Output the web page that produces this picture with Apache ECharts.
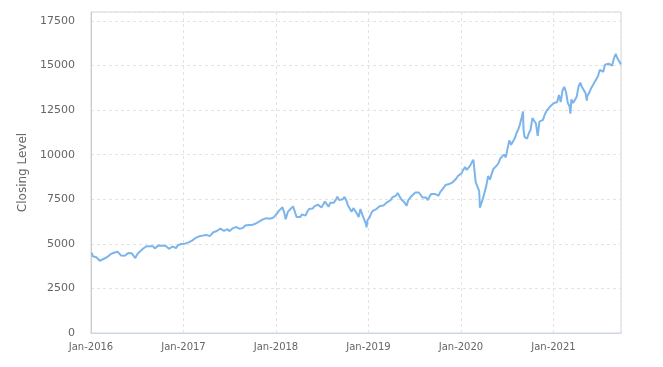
<!DOCTYPE html>
<html><head><meta charset="utf-8">
<script src="https://cdn.jsdelivr.net/npm/echarts@6/dist/echarts.min.js"></script>
<style>html,body{margin:0;padding:0;background:#fff}#c{width:663px;height:367px}</style>
</head><body><div id="c"></div>
<script>
// Weekly (Friday) closing levels, first Friday = 2016-01-08
const firstFriday = '2016-01-08';
const closes2016 = [4300,4200,4250,4280, 4050,4000,4150,4200, 4250,4350,4420,4450, 4500,4560,4560,4480,4340,
  4320,4330,4350,4480, 4500,4470,4420,4200, 4400,4520,4620,4700,4760, 4850,4860,4860,4840,
  4860,4740,4840,4910,4930, 4890,4860,4890,4840, 4720,4790,4850,4880, 4760,4920,4970,4990,4950];
const closes2017 = [5010,5050,5080,5130, 5180,5260,5330,5380, 5420,5440,5460,5430,5500, 5480,5430,5520,5650,
  5700,5720,5660,5850, 5900,5730,5740,5830,5710, 5740,5880,5960,5940, 5930,5840,5810,5910,
  6030,5980,6050,5990,6060, 6090,6140,6120,6260, 6320,6370,6390,6440, 6390,6410,6490,6480,6460];
const closes2018 = [6700,6850,6950,7050, 6750,6450,6780,6900, 6850,7100,7000,6500,6600, 6500,6650,6670,6580,
  6800,6950,6900,6980, 7100,7150,7200,7100,7040, 7150,7370,7320,7080, 7300,7350,7310,7450,7650,
  7450,7520,7500,7630, 7450,7150,7050,6800, 7000,7000,6700,6500,6950, 6650,6550,6150,6330];
const closes2019 = [6450,6700,6850,6850, 6950,7000,7120,7180, 7150,7050,7330,7280,7450, 7600,7650,7700,7850,
  7800,7500,7450,7300,7130, 7450,7550,7700,7670, 7880,7950,7880,7980, 7600,7550,7600,7450,7660,
  7800,7850,7800,7700, 7700,7900,8000,8150, 8300,8350,8350,8350,8450, 8450,8650,8800,8900];
const closes2020 = [8950,9150,9300,9150,9050, 9400,9600,9450,8460, 8530,7950,7020,7500, 7500,8250,8800,8600,
  8700,9200,9150,9400,9550, 9800,9700,10000,9850, 10350,10800,10550,10450,10900, 11200,11400,11700,12100,
  11400,11050,10900,11200, 11400,12050,11950,11750,11050, 11850,11900,11950,12250, 12450,12400,12700,12750];
const closes2021 = [12880,12950,12950,13350,12950, 13600,13800,13500,12900, 12700,13100,12900,12950,
  13250,13800,14040,13800,13850, 13450,13300,13450,13700, 13800,14050,14150,14400,
  14750,14700,14650,15050,15000, 15100,15100,15000,15400, 15650,15400,15300,15050];

// Extra daily closes at visible turning points
const extraDates  = ['2016-01-04','2016-02-11','2016-06-27','2018-02-08','2018-03-12','2018-12-24',
  '2019-06-03','2020-02-19','2020-03-16','2020-03-23','2020-09-02','2020-09-08','2020-10-12',
  '2021-03-08','2021-05-12','2021-09-07'];
const extraCloses = [4500,3950,4150,6380,7130,5920,
  7050,9720,7020,7000,12420,11000,12080,
  12300,13030,15670];

const monthNames = ['Jan','Feb','Mar','Apr','May','Jun','Jul','Aug','Sep','Oct','Nov','Dec'];
const axisStart = '2016-01-01';
const axisEnd = '2021-09-24';
const yMax = 18000, yStep = 2500;

const DAY = 86400000;
const weekly = [].concat(closes2016, closes2017, closes2018, closes2019, closes2020, closes2021);
const t0 = Date.parse(firstFriday + 'T00:00:00Z');
const pts = weekly.map((v, i) => [t0 + i * 7 * DAY, v]);
extraDates.forEach((d, i) => pts.push([Date.parse(d + 'T00:00:00Z'), extraCloses[i]]));
pts.sort((a, b) => a[0] - b[0]);

const chart = echarts.init(document.getElementById('c'), null, {renderer: 'canvas'});
const font = 'DejaVu Sans';
chart.setOption({
  animation: false,
  backgroundColor: '#fff',
  grid: {left: 91, right: 42, top: 12, bottom: 34, show: true, borderColor: '#d5d5d5', borderWidth: 1},
  xAxis: {
    type: 'value',
    min: Date.parse(axisStart + 'T00:00:00Z'),
    max: Date.parse(axisEnd + 'T00:00:00Z'),
    interval: 365.25 * DAY,
    axisLine: {show: true, lineStyle: {color: '#ccd6eb'}},
    axisTick: {show: false},
    axisLabel: {
      color: '#666', fontFamily: font, fontSize: 10, margin: 9, showMaxLabel: false,
      formatter: v => { const d = new Date(v + 3 * DAY); return monthNames[d.getUTCMonth()] + '-' + d.getUTCFullYear(); }
    },
    splitLine: {show: true, lineStyle: {color: '#e3e3e3', type: [3, 3]}}
  },
  yAxis: {
    type: 'value', min: 0, max: yMax, interval: yStep,
    name: 'Closing Level', nameLocation: 'middle', nameGap: 50,
    nameTextStyle: {color: '#666', fontFamily: font, fontSize: 12},
    axisLine: {show: true, lineStyle: {color: '#ccc'}},
    axisTick: {show: false},
    axisLabel: {color: '#666', fontFamily: font, fontSize: 11, margin: 16, showMaxLabel: false,
      formatter: v => String(v)},
    splitLine: {show: true, lineStyle: {color: '#e3e3e3', type: [3, 3]}}
  },
  series: [{
    type: 'line', data: pts, showSymbol: false, symbol: 'none',
    lineStyle: {color: '#7cb5ec', width: 2}, itemStyle: {color: '#7cb5ec'}
  }]
});
</script></body></html>
